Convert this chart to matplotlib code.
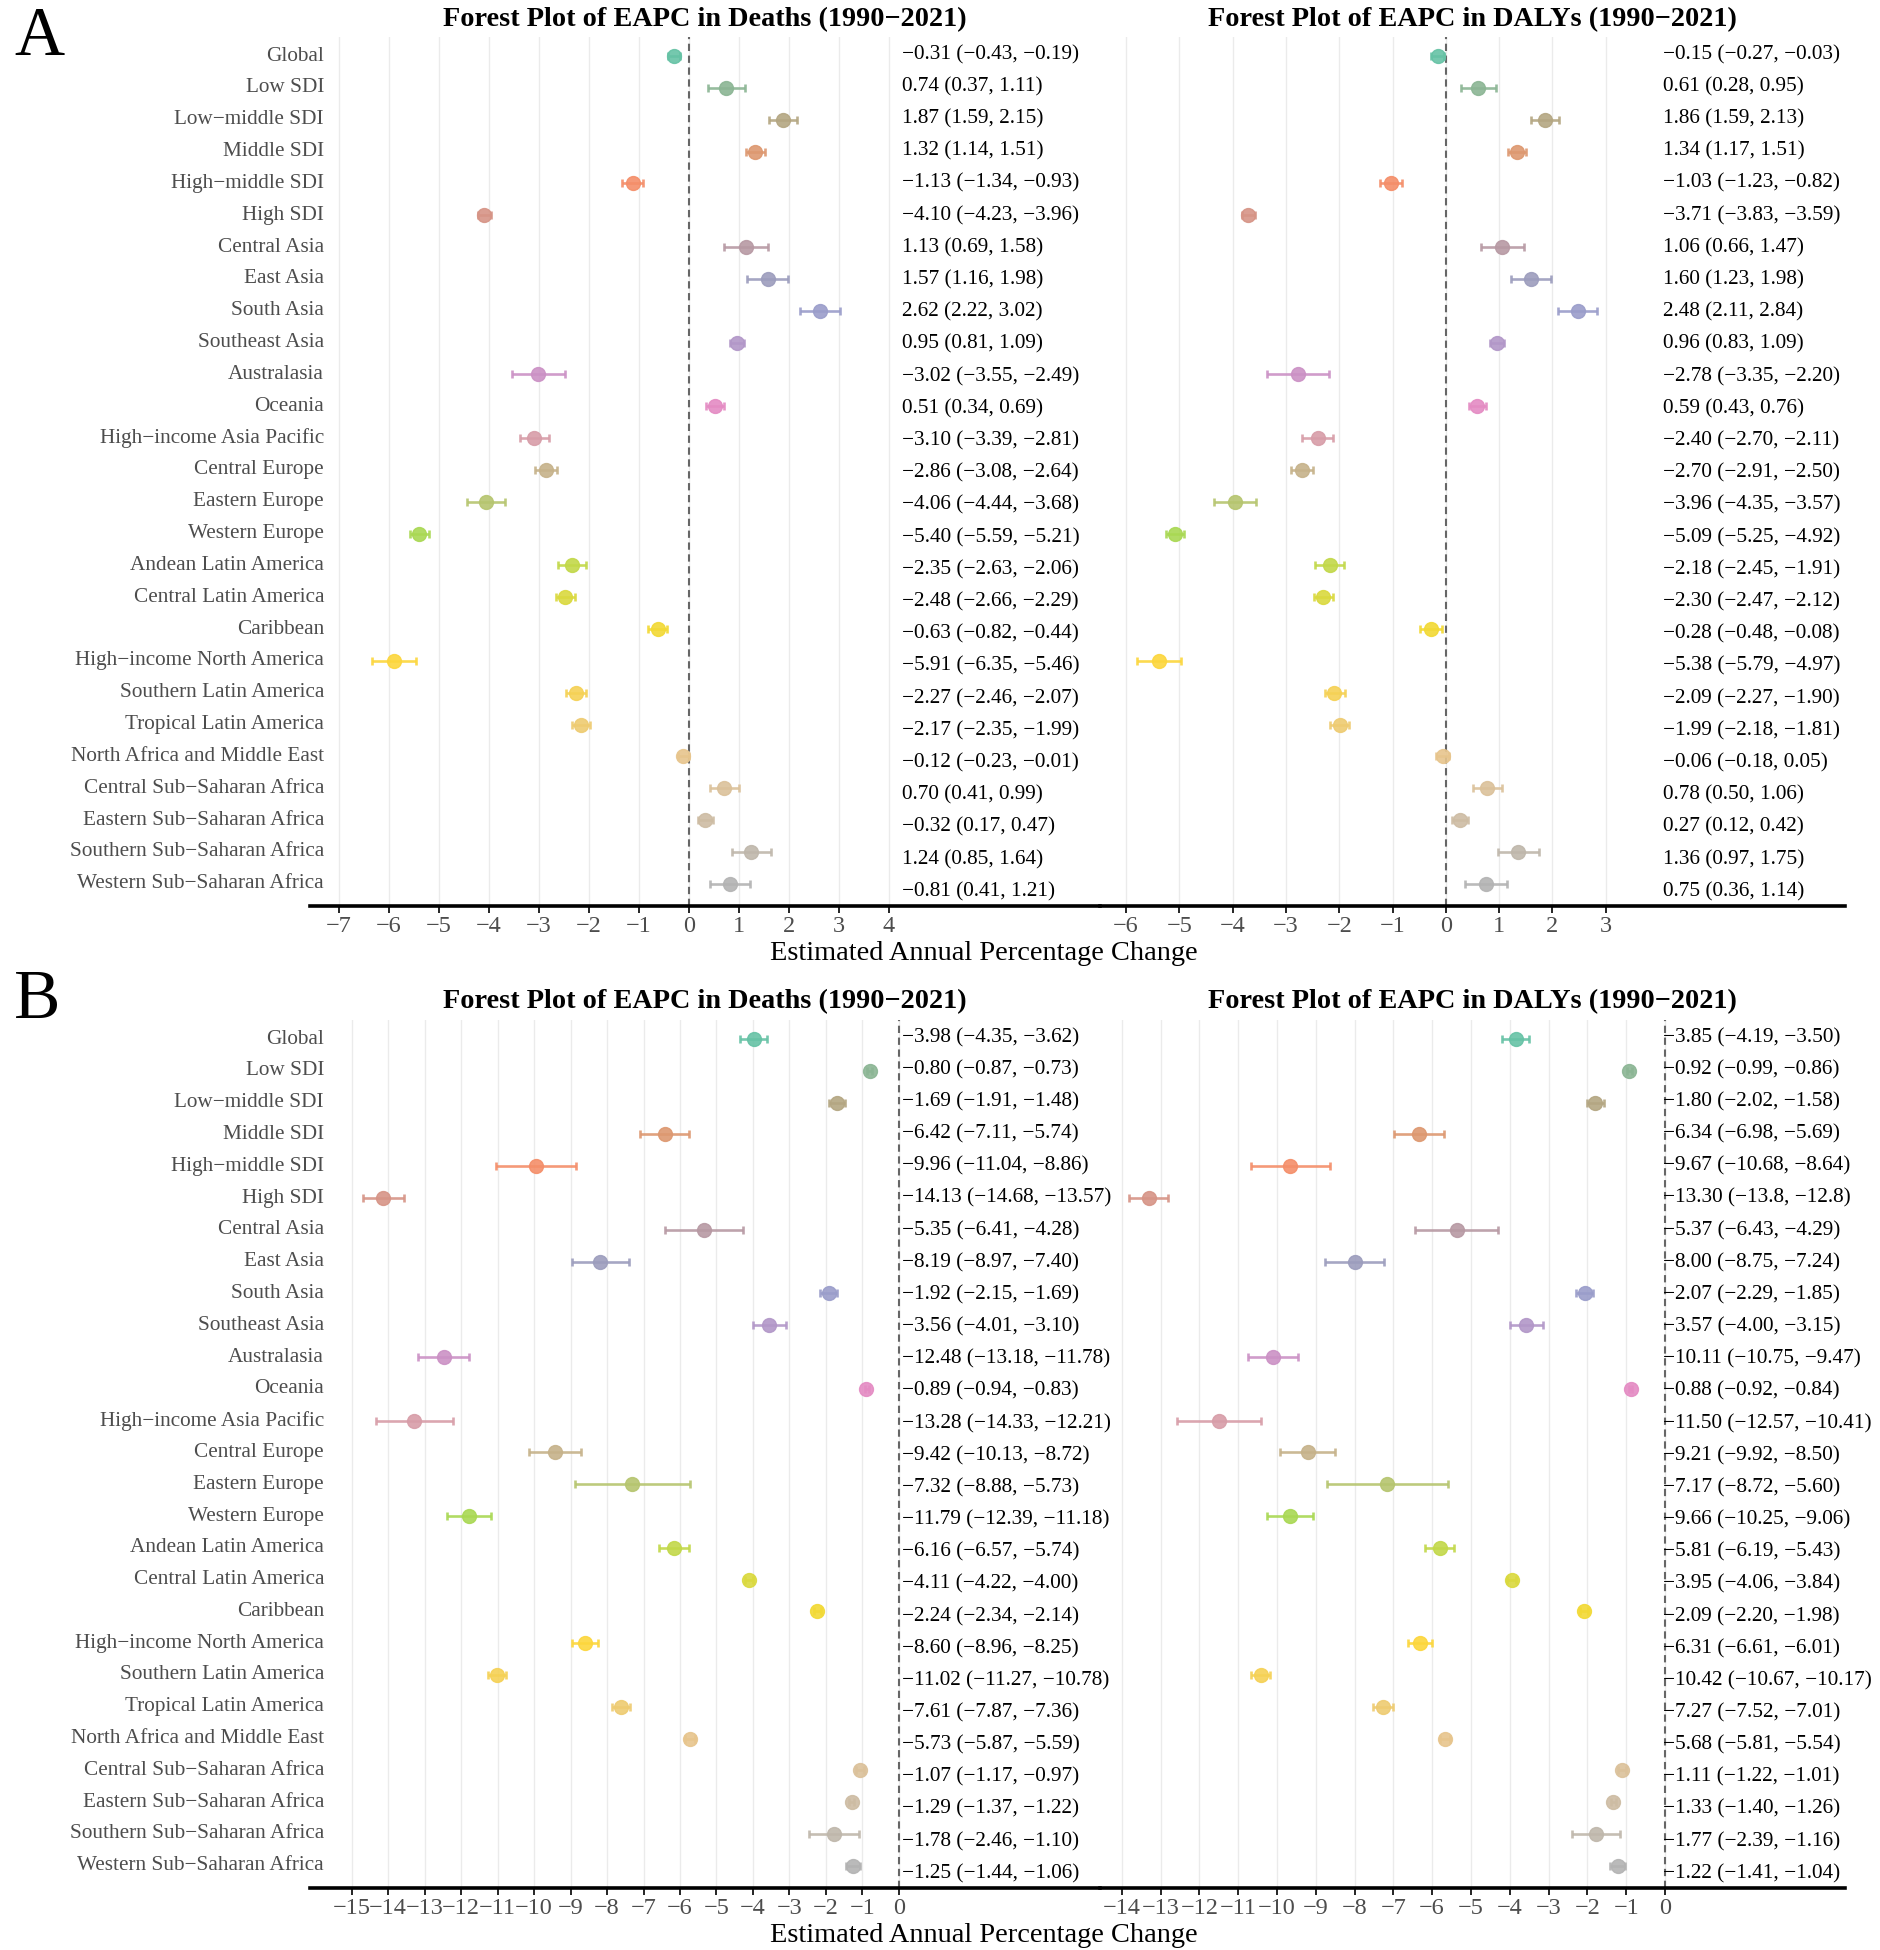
import matplotlib
matplotlib.use("Agg")
import matplotlib.pyplot as plt
import matplotlib.transforms as mtransforms
from matplotlib.colors import LinearSegmentedColormap
import numpy as np

plt.rcParams['font.family'] = ['Liberation Serif', 'DejaVu Serif']

# regions, top to bottom
regions = ["Global", "Low SDI", "Low−middle SDI", "Middle SDI", "High−middle SDI", "High SDI",
           "Central Asia", "East Asia", "South Asia", "Southeast Asia", "Australasia", "Oceania",
           "High−income Asia Pacific", "Central Europe", "Eastern Europe", "Western Europe",
           "Andean Latin America", "Central Latin America", "Caribbean",
           "High−income North America", "Southern Latin America", "Tropical Latin America",
           "North Africa and Middle East", "Central Sub−Saharan Africa",
           "Eastern Sub−Saharan Africa", "Southern Sub−Saharan Africa", "Western Sub−Saharan Africa"]

# Panel A - deaths
a_death_est = [-0.31, 0.74, 1.87, 1.32, -1.13, -4.10, 1.13, 1.57, 2.62, 0.95, -3.02, 0.51, -3.10, -2.86,
               -4.06, -5.40, -2.35, -2.48, -0.63, -5.91, -2.27, -2.17, -0.12, 0.70, 0.32, 1.24, 0.81]
a_death_lo = [-0.43, 0.37, 1.59, 1.14, -1.34, -4.23, 0.69, 1.16, 2.22, 0.81, -3.55, 0.34, -3.39, -3.08,
              -4.44, -5.59, -2.63, -2.66, -0.82, -6.35, -2.46, -2.35, -0.23, 0.41, 0.17, 0.85, 0.41]
a_death_hi = [-0.19, 1.11, 2.15, 1.51, -0.93, -3.96, 1.58, 1.98, 3.02, 1.09, -2.49, 0.69, -2.81, -2.64,
              -3.68, -5.21, -2.06, -2.29, -0.44, -5.46, -2.07, -1.99, -0.01, 0.99, 0.47, 1.64, 1.21]
a_death_txt = ["−0.31 (−0.43, −0.19)", "0.74 (0.37, 1.11)", "1.87 (1.59, 2.15)", "1.32 (1.14, 1.51)",
               "−1.13 (−1.34, −0.93)", "−4.10 (−4.23, −3.96)", "1.13 (0.69, 1.58)", "1.57 (1.16, 1.98)",
               "2.62 (2.22, 3.02)", "0.95 (0.81, 1.09)", "−3.02 (−3.55, −2.49)", "0.51 (0.34, 0.69)",
               "−3.10 (−3.39, −2.81)", "−2.86 (−3.08, −2.64)", "−4.06 (−4.44, −3.68)",
               "−5.40 (−5.59, −5.21)", "−2.35 (−2.63, −2.06)", "−2.48 (−2.66, −2.29)",
               "−0.63 (−0.82, −0.44)", "−5.91 (−6.35, −5.46)", "−2.27 (−2.46, −2.07)",
               "−2.17 (−2.35, −1.99)", "−0.12 (−0.23, −0.01)", "0.70 (0.41, 0.99)",
               "−0.32 (0.17, 0.47)", "1.24 (0.85, 1.64)", "−0.81 (0.41, 1.21)"]

# Panel A - DALYs
a_daly_est = [-0.15, 0.61, 1.86, 1.34, -1.03, -3.71, 1.06, 1.60, 2.48, 0.96, -2.78, 0.59, -2.40, -2.70,
              -3.96, -5.09, -2.18, -2.30, -0.28, -5.38, -2.09, -1.99, -0.06, 0.78, 0.27, 1.36, 0.75]
a_daly_lo = [-0.27, 0.28, 1.59, 1.17, -1.23, -3.83, 0.66, 1.23, 2.11, 0.83, -3.35, 0.43, -2.70, -2.91,
             -4.35, -5.25, -2.45, -2.47, -0.48, -5.79, -2.27, -2.18, -0.18, 0.50, 0.12, 0.97, 0.36]
a_daly_hi = [-0.03, 0.95, 2.13, 1.51, -0.82, -3.59, 1.47, 1.98, 2.84, 1.09, -2.20, 0.76, -2.11, -2.50,
             -3.57, -4.92, -1.91, -2.12, -0.08, -4.97, -1.90, -1.81, 0.05, 1.06, 0.42, 1.75, 1.14]
a_daly_txt = ["−0.15 (−0.27, −0.03)", "0.61 (0.28, 0.95)", "1.86 (1.59, 2.13)", "1.34 (1.17, 1.51)",
              "−1.03 (−1.23, −0.82)", "−3.71 (−3.83, −3.59)", "1.06 (0.66, 1.47)", "1.60 (1.23, 1.98)",
              "2.48 (2.11, 2.84)", "0.96 (0.83, 1.09)", "−2.78 (−3.35, −2.20)", "0.59 (0.43, 0.76)",
              "−2.40 (−2.70, −2.11)", "−2.70 (−2.91, −2.50)", "−3.96 (−4.35, −3.57)",
              "−5.09 (−5.25, −4.92)", "−2.18 (−2.45, −1.91)", "−2.30 (−2.47, −2.12)",
              "−0.28 (−0.48, −0.08)", "−5.38 (−5.79, −4.97)", "−2.09 (−2.27, −1.90)",
              "−1.99 (−2.18, −1.81)", "−0.06 (−0.18, 0.05)", "0.78 (0.50, 1.06)",
              "0.27 (0.12, 0.42)", "1.36 (0.97, 1.75)", "0.75 (0.36, 1.14)"]

# Panel B - deaths
b_death_est = [-3.98, -0.80, -1.69, -6.42, -9.96, -14.13, -5.35, -8.19, -1.92, -3.56, -12.48, -0.89,
               -13.28, -9.42, -7.32, -11.79, -6.16, -4.11, -2.24, -8.60, -11.02, -7.61, -5.73,
               -1.07, -1.29, -1.78, -1.25]
b_death_lo = [-4.35, -0.87, -1.91, -7.11, -11.04, -14.68, -6.41, -8.97, -2.15, -4.01, -13.18, -0.94,
              -14.33, -10.13, -8.88, -12.39, -6.57, -4.22, -2.34, -8.96, -11.27, -7.87, -5.87,
              -1.17, -1.37, -2.46, -1.44]
b_death_hi = [-3.62, -0.73, -1.48, -5.74, -8.86, -13.57, -4.28, -7.40, -1.69, -3.10, -11.78, -0.83,
              -12.21, -8.72, -5.73, -11.18, -5.74, -4.00, -2.14, -8.25, -10.78, -7.36, -5.59,
              -0.97, -1.22, -1.10, -1.06]
b_death_txt = ["−3.98 (−4.35, −3.62)", "−0.80 (−0.87, −0.73)", "−1.69 (−1.91, −1.48)",
               "−6.42 (−7.11, −5.74)", "−9.96 (−11.04, −8.86)", "−14.13 (−14.68, −13.57)",
               "−5.35 (−6.41, −4.28)", "−8.19 (−8.97, −7.40)", "−1.92 (−2.15, −1.69)",
               "−3.56 (−4.01, −3.10)", "−12.48 (−13.18, −11.78)", "−0.89 (−0.94, −0.83)",
               "−13.28 (−14.33, −12.21)", "−9.42 (−10.13, −8.72)", "−7.32 (−8.88, −5.73)",
               "−11.79 (−12.39, −11.18)", "−6.16 (−6.57, −5.74)", "−4.11 (−4.22, −4.00)",
               "−2.24 (−2.34, −2.14)", "−8.60 (−8.96, −8.25)", "−11.02 (−11.27, −10.78)",
               "−7.61 (−7.87, −7.36)", "−5.73 (−5.87, −5.59)", "−1.07 (−1.17, −0.97)",
               "−1.29 (−1.37, −1.22)", "−1.78 (−2.46, −1.10)", "−1.25 (−1.44, −1.06)"]

# Panel B - DALYs
b_daly_est = [-3.85, -0.92, -1.80, -6.34, -9.67, -13.30, -5.37, -8.00, -2.07, -3.57, -10.11, -0.88,
              -11.50, -9.21, -7.17, -9.66, -5.81, -3.95, -2.09, -6.31, -10.42, -7.27, -5.68,
              -1.11, -1.33, -1.77, -1.22]
b_daly_lo = [-4.19, -0.99, -2.02, -6.98, -10.68, -13.8, -6.43, -8.75, -2.29, -4.00, -10.75, -0.92,
             -12.57, -9.92, -8.72, -10.25, -6.19, -4.06, -2.20, -6.61, -10.67, -7.52, -5.81,
             -1.22, -1.40, -2.39, -1.41]
b_daly_hi = [-3.50, -0.86, -1.58, -5.69, -8.64, -12.8, -4.29, -7.24, -1.85, -3.15, -9.47, -0.84,
             -10.41, -8.50, -5.60, -9.06, -5.43, -3.84, -1.98, -6.01, -10.17, -7.01, -5.54,
             -1.01, -1.26, -1.16, -1.04]
b_daly_txt = ["−3.85 (−4.19, −3.50)", "−0.92 (−0.99, −0.86)", "−1.80 (−2.02, −1.58)",
              "−6.34 (−6.98, −5.69)", "−9.67 (−10.68, −8.64)", "−13.30 (−13.8, −12.8)",
              "−5.37 (−6.43, −4.29)", "−8.00 (−8.75, −7.24)", "−2.07 (−2.29, −1.85)",
              "−3.57 (−4.00, −3.15)", "−10.11 (−10.75, −9.47)", "−0.88 (−0.92, −0.84)",
              "−11.50 (−12.57, −10.41)", "−9.21 (−9.92, −8.50)", "−7.17 (−8.72, −5.60)",
              "−9.66 (−10.25, −9.06)", "−5.81 (−6.19, −5.43)", "−3.95 (−4.06, −3.84)",
              "−2.09 (−2.20, −1.98)", "−6.31 (−6.61, −6.01)", "−10.42 (−10.67, −10.17)",
              "−7.27 (−7.52, −7.01)", "−5.68 (−5.81, −5.54)", "−1.11 (−1.22, −1.01)",
              "−1.33 (−1.40, −1.26)", "−1.77 (−2.39, −1.16)", "−1.22 (−1.41, −1.04)"]

title_deaths = "Forest Plot of EAPC in Deaths (1990−2021)"
title_dalys = "Forest Plot of EAPC in DALYs (1990−2021)"
xlabel = "Estimated Annual Percentage Change"

# Set2 stretched over the 27 regions
set2 = ["#66C2A5", "#FC8D62", "#8DA0CB", "#E78AC3", "#A6D854", "#FFD92F", "#E5C494", "#B3B3B3"]
cmap = LinearSegmentedColormap.from_list("set2ramp", set2)
colors = [cmap(i / (len(regions) - 1)) for i in range(len(regions))]

W, H = 1880, 1950
fig = plt.figure(figsize=(W / 100, H / 100), dpi=100)


def add_ax(x0, x1, ytop, ybot):
    ax = fig.add_axes([x0 / W, 1 - ybot / H, (x1 - x0) / W, (ybot - ytop) / H])
    ax.patch.set_visible(False)
    return ax


def forest(ax, est, lo, hi, xlim, ticks):
    y = np.arange(len(est))
    for i in range(len(est)):
        ax.errorbar(est[i], y[i], xerr=[[est[i] - lo[i]], [hi[i] - est[i]]], fmt='o',
                    color=colors[i], ms=10, capsize=3, elinewidth=1.9, capthick=1.9,
                    alpha=0.9, zorder=3)
    ax.axvline(0, color='#666666', lw=1.5, ls=(0, (3.5, 2.2)), zorder=2)
    ax.set_xlim(*xlim)
    ax.set_ylim(26.7, -0.6)
    ax.set_xticks(ticks)
    ax.set_yticks([])
    ax.grid(axis='x', color='#EBEBEB', lw=1.0)
    ax.set_axisbelow(True)
    for s in ['top', 'left', 'right']:
        ax.spines[s].set_visible(False)
    ax.spines['bottom'].set_linewidth(2.6)
    ax.tick_params(axis='x', length=5, width=1.2, colors='black', labelcolor='#4D4D4D',
                   labelsize=17.5, pad=2)


def value_text(ax, x_px, txt):
    tr = mtransforms.blended_transform_factory(fig.transFigure, ax.transData)
    for i, t in enumerate(txt):
        ax.text(x_px / W, i * 1.0115 - 0.05, t, transform=tr, ha='left', va='center',
                fontsize=15.3, color='black', clip_on=False)


def row_labels(ax, x_px):
    tr = mtransforms.blended_transform_factory(fig.transFigure, ax.transData)
    for i, r in enumerate(regions):
        ax.text(x_px / W, i, r, transform=tr, ha='right', va='center',
                fontsize=15.3, color='#4D4D4D', clip_on=False)


panels = [
    ("A", 37, 906, 20, 55,
     (a_death_est, a_death_lo, a_death_hi, a_death_txt, (-7.58, 8.22), range(-7, 5)),
     (a_daly_est, a_daly_lo, a_daly_hi, a_daly_txt, (-6.49, 7.49), range(-6, 4))),
    ("B", 1020, 1888, 1002, 1018,
     (b_death_est, b_death_lo, b_death_hi, b_death_txt, (-16.14, 5.51), range(-15, 1)),
     (b_daly_est, b_daly_lo, b_daly_hi, b_daly_txt, (-14.56, 4.64), range(-14, 1))),
]

for letter, ytop, ybot, ytitle, yletter, left, right in panels:
    axl = add_ax(310, 1100, ytop, ybot)
    axr = add_ax(1100, 1845, ytop, ybot)
    forest(axl, *left[:3], left[4], left[5])
    forest(axr, *right[:3], right[4], right[5])
    row_labels(axl, 324)
    value_text(axl, 902, left[3])
    value_text(axr, 1663, right[3])
    fig.text(705 / W, 1 - ytitle / H, title_deaths, ha='center', va='center',
             fontsize=20.3, fontweight='bold')
    fig.text(1472 / W, 1 - ytitle / H, title_dalys, ha='center', va='center',
             fontsize=20.3, fontweight='bold')
    fig.text(984 / W, 1 - (ybot + 47) / H, xlabel, ha='center', va='center', fontsize=20.4)
    fig.text(14 / W, 1 - yletter / H, letter, ha='left', va='baseline', fontsize=50)

fig.savefig("out.png", dpi=100, facecolor='white')
